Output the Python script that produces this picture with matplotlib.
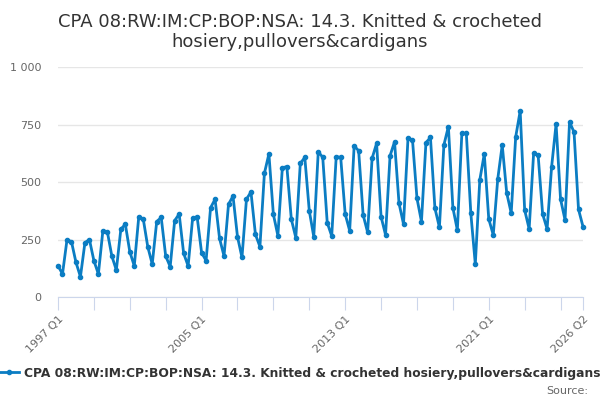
import numpy as np
from matplotlib import pyplot as plt

title = 'CPA 08:RW:IM:CP:BOP:NSA: 14.3. Knitted & crocheted\nhosiery,pullovers&cardigans'
series_name = 'CPA 08:RW:IM:CP:BOP:NSA: 14.3. Knitted & crocheted hosiery,pullovers&cardigans'

# quarterly values, 1997 Q1 .. 2026 Q2
values = [
    136, 100, 248, 241, 151, 88, 236, 250, 158, 100, 288, 283,
    178, 117, 294, 317, 197, 135, 349, 339, 219, 143, 328, 346,
    178, 132, 332, 361, 190, 135, 342, 349, 193, 158, 388, 425,
    255, 178, 403, 439, 262, 172, 425, 457, 272, 219, 538, 622,
    359, 267, 562, 567, 338, 258, 581, 607, 375, 262, 632, 607,
    323, 265, 610, 607, 361, 288, 657, 636, 357, 281, 603, 668,
    349, 270, 614, 675, 407, 317, 690, 683, 429, 328, 671, 694,
    386, 303, 661, 741, 388, 291, 711, 711, 364, 143, 509, 622,
    339, 270, 513, 661, 452, 365, 696, 809, 378, 296, 626, 617,
    361, 296, 565, 752, 425, 335, 761, 717, 381, 306,
]

quarters = []
for year in range(1997, 2027):
    for q in range(1, 5):
        quarters.append(f'{year} Q{q}')
quarters = quarters[:len(values)]

label_quarters = ['1997 Q1', '2005 Q1', '2013 Q1', '2021 Q1', '2026 Q2']
y_ticks = [0, 250, 500, 750, 1000]
y_tick_labels = ['0', '250', '500', '750', '1 000']

color = '#0b7dc3'
x_values = np.arange(len(values))

fig = plt.figure(figsize=(6, 4), dpi=100)
ax = fig.add_axes([58 / 600, 1 - 297 / 400, (583 - 58) / 600, (297 - 67) / 400])

ax.plot(x_values, values, color=color, linewidth=2, marker='o', markersize=3, clip_on=False)

ax.set_xlim(0, len(values) - 1)
ax.set_ylim(0, 1000)

ax.set_yticks(y_ticks)
ax.set_yticklabels(y_tick_labels)
ax.grid(axis='y', color='#e6e6e6', linewidth=1)
ax.set_axisbelow(True)

tick_pos = list(range(0, len(values) - 1, 8)) + [len(values) - 1]
ax.set_xticks(tick_pos)
ax.set_xticklabels([quarters[i] if quarters[i] in label_quarters else '' for i in tick_pos],
                   rotation=45, ha='right', rotation_mode='anchor')

for side in ['top', 'right', 'left']:
    ax.spines[side].set_visible(False)
ax.spines['bottom'].set_color('#ccd6eb')

ax.tick_params(axis='x', color='#ccd6eb', length=9, labelsize=8, labelcolor='#666666', pad=3)
ax.tick_params(axis='y', length=0, labelsize=8, labelcolor='#666666', pad=12)

fig.text(0.5, 1 - 32 / 400, title, ha='center', va='center', fontsize=13, color='#333333')

handle, = ax.plot([], [], color=color, linewidth=2, marker='o', markersize=3)
fig.legend([handle], [series_name], loc='center', bbox_to_anchor=(0.5, 1 - 373 / 400),
           frameon=False, handlelength=1.6, handletextpad=0.4,
           prop={'size': 8.8, 'weight': 'bold'}, labelcolor='#333333')

fig.text(588 / 600, 1 - 391 / 400, 'Source:', ha='right', va='center', fontsize=8, color='#666666')

plt.savefig('out.png')
